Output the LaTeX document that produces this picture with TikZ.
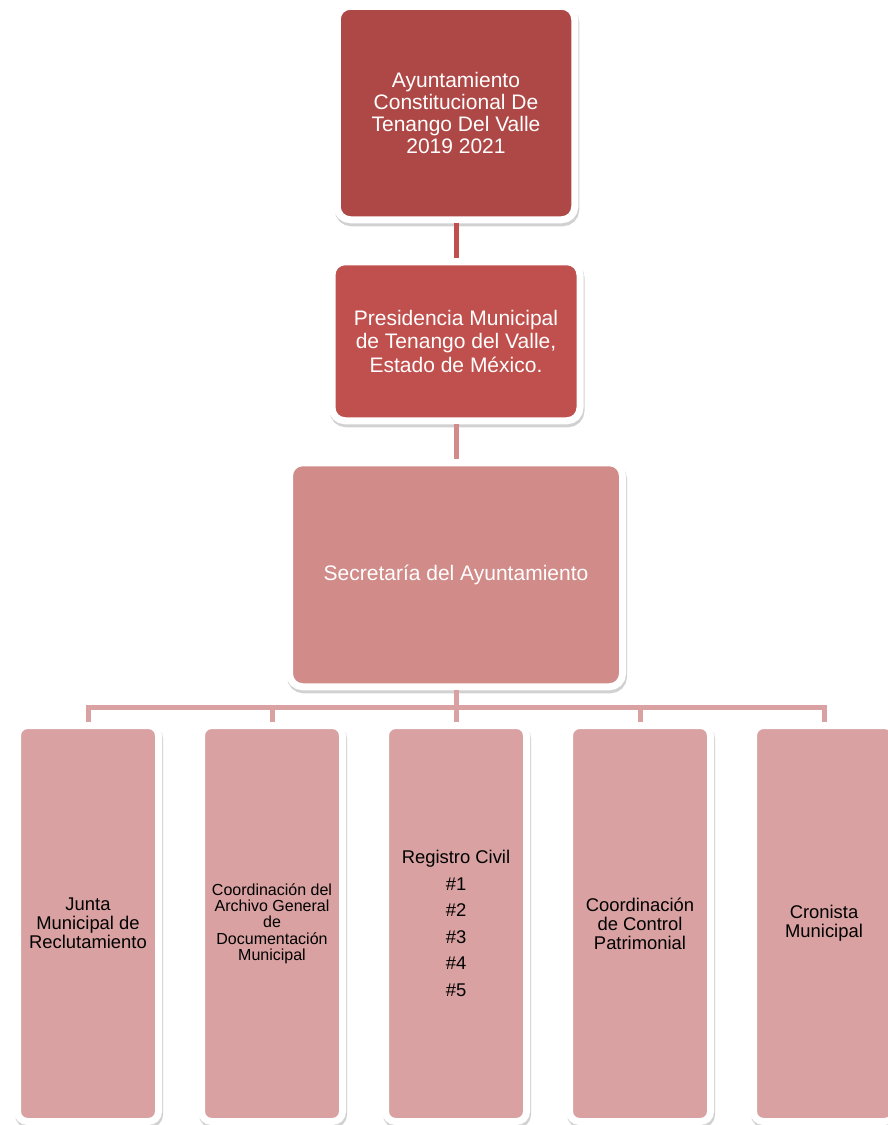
\documentclass[tikz,border=0pt]{standalone}
\usepackage{fontspec}
\setmainfont{Liberation Sans}
\usepackage{xcolor}
\usetikzlibrary{positioning, shadows}

\definecolor{ayuntrojo}{RGB}{174,72,70}
\definecolor{presrojo}{RGB}{192,80,77}
\definecolor{secrosa}{RGB}{209,139,137}
\definecolor{arearosa}{RGB}{217,161,161}

\begin{document}
\begin{tikzpicture}[x=1pt, y=-1pt,
    caja/.style={draw=white, line width=7pt, rounded corners=13pt, align=center, inner sep=4pt,
        drop shadow={shadow xshift=1pt, shadow yshift=-3pt, opacity=.3, fill=black!60, draw=black!60, line width=7pt}},
    area/.style={caja, fill=arearosa, rounded corners=10pt, minimum width=141pt, minimum height=396pt,
        text=black, font=\fontsize{18.4}{19}\selectfont},
    enlace/.style={line width=5pt}]
    \useasboundingbox (0,0) rectangle (888,1125);

    % niveles superiores
    \node [caja, fill=ayuntrojo, text=white, minimum width=237.5pt, minimum height=213.5pt,
        font=\fontsize{21}{22}\selectfont] (ayunt) at (456,113)
        {Ayuntamiento\\Constitucional De\\Tenango Del Valle\\2019 2021};
    \node [caja, fill=presrojo, text=white, minimum width=248pt, minimum height=159pt,
        font=\fontsize{21}{23.5}\selectfont, below=35pt of ayunt] (presid)
        {Presidencia Municipal\\de Tenango del Valle,\\Estado de México.};
    \node [caja, fill=secrosa, text=white, minimum width=333pt, minimum height=224pt,
        font=\fontsize{21}{23.5}\selectfont, below=35pt of presid] (secret)
        {Secretaría del Ayuntamiento};

    % areas
    \node [area] (junta) at (88,923.5) {Junta\\Municipal de\\Reclutamiento};
    \node [area, font=\fontsize{16}{16.3}\selectfont, right=36pt of junta] (archivo)
        {Coordinación del\\Archivo General\\de\\Documentación\\Municipal};
    \node [area, font=\fontsize{18.4}{26.5}\selectfont, right=36pt of archivo] (registro)
        {Registro Civil\\\#1\\\#2\\\#3\\\#4\\\#5};
    \node [area, right=36pt of registro] (control) {Coordinación\\de Control\\Patrimonial};
    \node [area, right=36pt of control] (cronista) {Cronista\\Municipal};

    \draw [enlace, presrojo] (ayunt) -- (presid);
    \draw [enlace, secrosa] (presid) -- (secret);
    \coordinate (bus) at (456,707);
    \draw [enlace, arearosa] (secret) -- (bus);
    \draw [enlace, arearosa] (junta.north) |- (bus) -| (cronista.north);
    \draw [enlace, arearosa] (archivo.north) -- (archivo.north |- bus);
    \draw [enlace, arearosa] (bus) -- (registro.north);
    \draw [enlace, arearosa] (control.north) -- (control.north |- bus);
\end{tikzpicture}
\end{document}
